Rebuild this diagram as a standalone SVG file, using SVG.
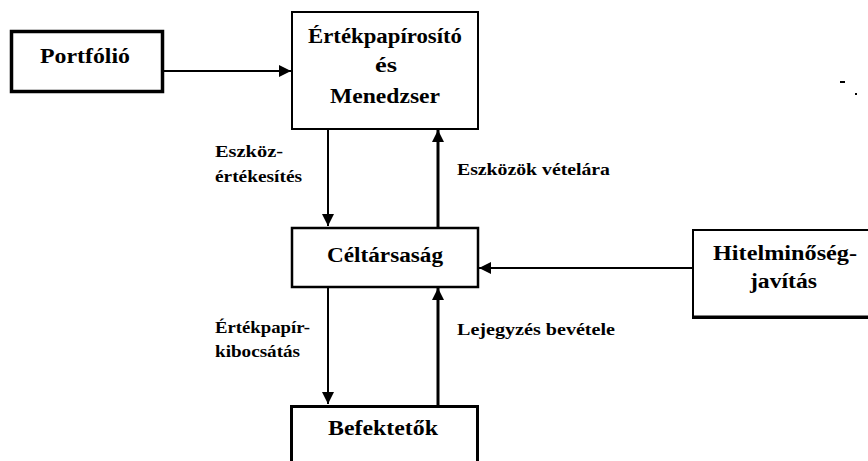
<svg xmlns="http://www.w3.org/2000/svg" width="868" height="461" viewBox="0 0 868 461">
<defs>
<style>
text{font-family:"Liberation Serif","Times New Roman",serif;font-weight:bold;fill:#000;}
.n{font-size:20px;}
.l{font-size:16px;}
.box{fill:#fff;stroke:#000;}
.c{stroke:#000;fill:none;}
</style>
<marker id="ah" viewBox="0 0 12 12" refX="12" refY="6" markerWidth="12" markerHeight="12" markerUnits="userSpaceOnUse" orient="auto">
<path d="M0,0 L12,6 L0,12 Z" fill="#000"/>
</marker>
</defs>
<rect width="868" height="461" fill="#fff"/>
<g id="connectors">
<line class="c" x1="163" y1="71" x2="291" y2="71" stroke-width="2" marker-end="url(#ah)"/>
<line class="c" x1="328" y1="129" x2="328" y2="226" stroke-width="2" marker-end="url(#ah)"/>
<line class="c" x1="438" y1="227" x2="438" y2="130" stroke-width="3" marker-end="url(#ah)"/>
<line class="c" x1="693" y1="268" x2="479" y2="268" stroke-width="2" marker-end="url(#ah)"/>
<line class="c" x1="328" y1="287" x2="328" y2="404" stroke-width="2" marker-end="url(#ah)"/>
<line class="c" x1="438" y1="405" x2="438" y2="288" stroke-width="3" marker-end="url(#ah)"/>
<text class="l" x="215" y="157" textLength="68" lengthAdjust="spacingAndGlyphs">Eszköz-</text>
<text class="l" x="215" y="182" textLength="87" lengthAdjust="spacingAndGlyphs">értékesítés</text>
<text class="l" x="457" y="175" textLength="153" lengthAdjust="spacingAndGlyphs">Eszközök vételára</text>
<text class="l" x="215" y="333" textLength="95" lengthAdjust="spacingAndGlyphs">Értékpapír-</text>
<text class="l" x="215" y="357" textLength="85" lengthAdjust="spacingAndGlyphs">kibocsátás</text>
<text class="l" x="457" y="335" textLength="158" lengthAdjust="spacingAndGlyphs">Lejegyzés bevétele</text>
</g>
<g id="portfolio">
<rect class="box" x="11.5" y="31.5" width="151" height="60" stroke-width="3.5"/>
<text class="n" x="40" y="63" textLength="90" lengthAdjust="spacingAndGlyphs">Portfólió</text>
</g>
<g id="ertekpapirosito">
<rect class="box" x="292" y="12" width="186" height="117" stroke-width="2"/>
<text class="n" x="308" y="43" textLength="154" lengthAdjust="spacingAndGlyphs">Értékpapírosító</text>
<text class="n" x="375" y="72" textLength="22" lengthAdjust="spacingAndGlyphs">és</text>
<text class="n" x="330" y="103" textLength="110" lengthAdjust="spacingAndGlyphs">Menedzser</text>
</g>
<g id="celtarsasag">
<rect class="box" x="292" y="228" width="186" height="59" stroke-width="2.5"/>
<text class="n" x="327" y="262" textLength="116" lengthAdjust="spacingAndGlyphs">Céltársaság</text>
</g>
<g id="hitelminoseg">
<rect class="box" x="693" y="230" width="190" height="88" stroke-width="2"/>
<line x1="693" y1="317" x2="868" y2="317" stroke="#000" stroke-width="3"/>
<text class="n" x="713" y="260" textLength="144" lengthAdjust="spacingAndGlyphs">Hitelminőség-</text>
<text class="n" x="750" y="288" textLength="67" lengthAdjust="spacingAndGlyphs">javítás</text>
</g>
<g id="befektetok">
<rect class="box" x="291.5" y="406.5" width="186" height="70" stroke-width="3"/>
<text class="n" x="328" y="435" textLength="110" lengthAdjust="spacingAndGlyphs">Befektetők</text>
</g>
<g id="marks">
<rect x="840" y="81" width="5" height="2" fill="#000"/>
<rect x="855" y="93" width="2" height="2" fill="#000"/>
</g>
</svg>
